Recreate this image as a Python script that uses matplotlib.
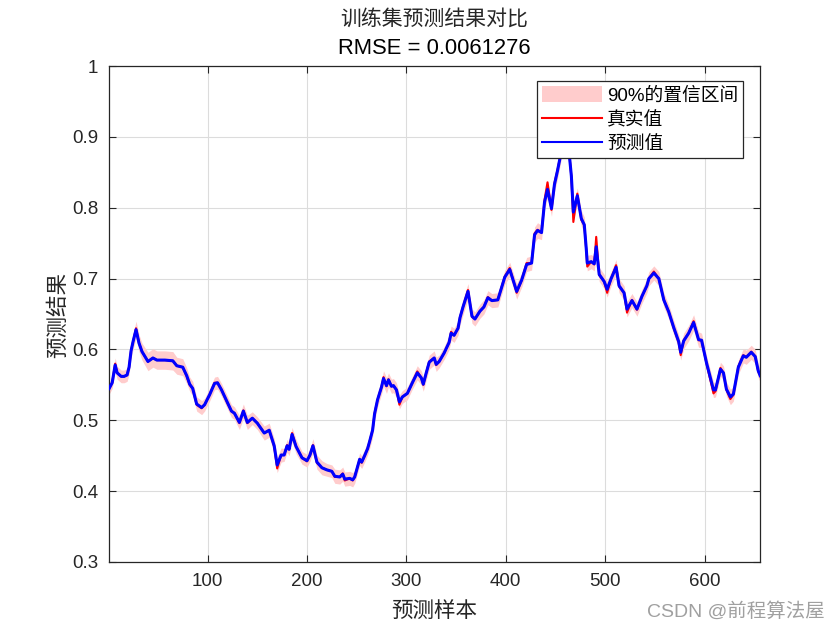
import numpy as np
import matplotlib
matplotlib.use("Agg")
from matplotlib import pyplot as plt
from matplotlib.patches import Patch
from matplotlib.lines import Line2D

# muestras (x = indice de muestra)
muestras = [1, 4, 7, 9, 13, 16, 19, 21, 23, 25, 28, 31, 34, 40, 45, 49, 57, 65, 69, 75,
            79, 82, 85, 89, 94, 97, 102, 107, 110, 114, 120, 124, 127, 132, 136, 140, 145, 150, 157, 162,
            167, 170, 174, 177, 180, 182, 185, 189, 195, 200, 203, 206, 210, 215, 220, 225, 228, 233, 236, 238,
            243, 246, 248, 251, 253, 255, 258, 261, 263, 266, 268, 271, 275, 277, 280, 282, 285, 287, 290, 293,
            296, 301, 306, 311, 315, 317, 320, 323, 328, 330, 333, 338, 343, 345, 348, 352, 354, 357, 362, 366,
            369, 374, 378, 382, 386, 392, 399, 404, 411, 416, 421, 426, 429, 432, 436, 439, 442, 446, 449, 452,
            455, 458, 460, 462, 464, 466, 468, 472, 476, 479, 481, 482, 486, 489, 491, 494, 499, 502, 506, 511,
            514, 519, 522, 527, 532, 537, 542, 544, 549, 554, 559, 564, 569, 574, 576, 579, 584, 589, 594, 597,
            602, 609, 611, 616, 619, 622, 626, 629, 634, 639, 642, 647, 651, 654, 656]

# valores reales (rojo)
y_real = [0.545, 0.553, 0.580, 0.567, 0.562, 0.562, 0.564, 0.575, 0.599, 0.611, 0.630, 0.609, 0.597, 0.583, 0.588, 0.585, 0.585, 0.584, 0.577, 0.575,
          0.562, 0.550, 0.545, 0.522, 0.517, 0.522, 0.536, 0.553, 0.553, 0.543, 0.524, 0.513, 0.510, 0.496, 0.514, 0.496, 0.503, 0.496, 0.482, 0.486,
          0.463, 0.432, 0.451, 0.451, 0.465, 0.459, 0.482, 0.463, 0.447, 0.442, 0.451, 0.465, 0.440, 0.433, 0.430, 0.428, 0.420, 0.420, 0.425, 0.415,
          0.418, 0.415, 0.420, 0.435, 0.445, 0.440, 0.450, 0.460, 0.470, 0.486, 0.510, 0.529, 0.547, 0.561, 0.548, 0.558, 0.548, 0.549, 0.543, 0.522,
          0.533, 0.538, 0.553, 0.569, 0.560, 0.550, 0.567, 0.583, 0.588, 0.578, 0.583, 0.595, 0.610, 0.625, 0.620, 0.630, 0.646, 0.660, 0.684, 0.646,
          0.643, 0.654, 0.660, 0.674, 0.669, 0.670, 0.703, 0.715, 0.680, 0.698, 0.722, 0.722, 0.764, 0.769, 0.765, 0.811, 0.836, 0.797, 0.835, 0.853,
          0.874, 0.900, 0.915, 0.900, 0.874, 0.844, 0.780, 0.820, 0.783, 0.776, 0.740, 0.717, 0.724, 0.720, 0.759, 0.705, 0.696, 0.680, 0.700, 0.719,
          0.689, 0.680, 0.652, 0.670, 0.656, 0.675, 0.690, 0.700, 0.710, 0.700, 0.670, 0.653, 0.630, 0.610, 0.592, 0.613, 0.623, 0.640, 0.613, 0.613,
          0.580, 0.538, 0.541, 0.574, 0.567, 0.543, 0.530, 0.536, 0.576, 0.592, 0.589, 0.597, 0.590, 0.569, 0.563]

# valores predichos (azul)
y_pred = [0.545, 0.553, 0.578, 0.567, 0.562, 0.562, 0.564, 0.575, 0.598, 0.611, 0.628, 0.609, 0.597, 0.583, 0.588, 0.585, 0.585, 0.584, 0.577, 0.575,
          0.563, 0.551, 0.545, 0.523, 0.518, 0.522, 0.536, 0.552, 0.553, 0.543, 0.525, 0.513, 0.510, 0.497, 0.513, 0.497, 0.503, 0.496, 0.482, 0.486,
          0.464, 0.437, 0.451, 0.451, 0.464, 0.459, 0.480, 0.463, 0.447, 0.443, 0.451, 0.464, 0.441, 0.433, 0.430, 0.428, 0.421, 0.420, 0.424, 0.417,
          0.418, 0.416, 0.420, 0.435, 0.445, 0.441, 0.450, 0.460, 0.470, 0.486, 0.509, 0.529, 0.547, 0.559, 0.549, 0.557, 0.548, 0.549, 0.543, 0.526,
          0.533, 0.538, 0.553, 0.567, 0.560, 0.551, 0.567, 0.582, 0.588, 0.579, 0.583, 0.595, 0.610, 0.623, 0.620, 0.630, 0.645, 0.660, 0.682, 0.647,
          0.643, 0.654, 0.660, 0.673, 0.669, 0.670, 0.702, 0.713, 0.682, 0.698, 0.720, 0.722, 0.762, 0.768, 0.765, 0.808, 0.826, 0.799, 0.833, 0.852,
          0.873, 0.898, 0.912, 0.898, 0.874, 0.845, 0.794, 0.817, 0.785, 0.776, 0.742, 0.722, 0.724, 0.721, 0.745, 0.706, 0.696, 0.685, 0.700, 0.716,
          0.690, 0.680, 0.657, 0.669, 0.657, 0.675, 0.690, 0.700, 0.708, 0.700, 0.670, 0.653, 0.631, 0.611, 0.596, 0.612, 0.623, 0.638, 0.614, 0.613,
          0.581, 0.543, 0.543, 0.572, 0.567, 0.544, 0.533, 0.537, 0.575, 0.591, 0.589, 0.596, 0.590, 0.570, 0.563]

# semi-anchura del intervalo de confianza del 90%
semi_ic = [0.008, 0.008, 0.010, 0.009, 0.009, 0.009, 0.009, 0.010, 0.010, 0.011, 0.012, 0.012, 0.012, 0.013, 0.013, 0.013, 0.013, 0.013, 0.012, 0.012,
           0.011, 0.010, 0.010, 0.010, 0.010, 0.009, 0.009, 0.009, 0.009, 0.009, 0.009, 0.009, 0.009, 0.010, 0.010, 0.010, 0.009, 0.009, 0.010, 0.010,
           0.010, 0.011, 0.010, 0.009, 0.009, 0.009, 0.010, 0.010, 0.009, 0.009, 0.009, 0.010, 0.010, 0.010, 0.009, 0.009, 0.010, 0.010, 0.010, 0.010,
           0.010, 0.010, 0.009, 0.009, 0.009, 0.009, 0.009, 0.009, 0.010, 0.010, 0.010, 0.010, 0.010, 0.011, 0.011, 0.010, 0.010, 0.010, 0.010, 0.010,
           0.009, 0.009, 0.009, 0.010, 0.010, 0.010, 0.010, 0.010, 0.010, 0.010, 0.009, 0.009, 0.010, 0.010, 0.010, 0.010, 0.010, 0.011, 0.011, 0.010,
           0.010, 0.010, 0.010, 0.010, 0.010, 0.010, 0.010, 0.010, 0.011, 0.010, 0.010, 0.010, 0.011, 0.011, 0.010, 0.011, 0.012, 0.011, 0.011, 0.011,
           0.011, 0.011, 0.011, 0.011, 0.011, 0.011, 0.012, 0.011, 0.011, 0.011, 0.011, 0.011, 0.010, 0.010, 0.012, 0.010, 0.010, 0.011, 0.010, 0.011,
           0.010, 0.010, 0.011, 0.010, 0.010, 0.010, 0.010, 0.010, 0.010, 0.010, 0.010, 0.010, 0.010, 0.010, 0.011, 0.011, 0.011, 0.011, 0.011, 0.010,
           0.010, 0.011, 0.010, 0.010, 0.010, 0.010, 0.011, 0.010, 0.010, 0.010, 0.010, 0.010, 0.010, 0.010, 0.009]

titulo = "训练集预测结果对比"
rmse_txt = "RMSE = 0.0061276"
nombres_leyenda = ["90%的置信区间", "真实值", "预测值"]
xticks = [100, 200, 300, 400, 500, 600]
yticks = [0.3, 0.4, 0.5, 0.6, 0.7, 0.8, 0.9, 1]

fuente = ["Liberation Sans", "Noto Sans CJK SC", "DejaVu Sans"]
fuente_cjk = ["Noto Sans CJK SC", "Liberation Sans", "DejaVu Sans"]
plt.rcParams["font.family"] = fuente

x = np.array(muestras)
yr = np.array(y_real)
yp = np.array(y_pred)
ic = np.array(semi_ic)

fig = plt.figure(figsize=(8.4, 6.3), dpi=100)
ax = fig.add_axes([0.130, 0.108, 0.775, 0.787])

ax.fill_between(x, yp - ic, yp + ic, color="#ffcccc", lw=0, zorder=1)
ax.plot(x, yr, color="red", lw=1.5, zorder=2)
ax.plot(x, yp, color="blue", lw=2.2, zorder=3)

ax.set_xlim(1, 656)
ax.set_ylim(0.3, 1)
ax.set_xticks(xticks)
ax.set_yticks(yticks)
ax.set_yticklabels(["0.3", "0.4", "0.5", "0.6", "0.7", "0.8", "0.9", "1"])
ax.tick_params(direction="in", length=5, width=0.8, labelsize=13.5, colors="#262626",
               top=True, right=True, pad=8)
ax.grid(True, color="#dcdcdc", lw=0.8)
ax.set_axisbelow(True)
for s in ax.spines.values():
    s.set_color("#262626")
    s.set_linewidth(0.9)

fig.text(0.517, 0.030, "预测样本", ha="center", va="center", fontsize=15.5,
         family=fuente_cjk, color="#262626")
fig.text(0.069, 0.5, "预测结果", ha="center", va="center", rotation=90, fontsize=15.5,
         family=fuente_cjk, color="#262626")
fig.text(0.517, 0.971, titulo, ha="center", va="center", fontsize=15,
         family=fuente_cjk, color="#262626")
fig.text(0.517, 0.923, rmse_txt, ha="center", va="center", fontsize=15.8, color="black")

handles = [Patch(facecolor="#ffcccc", edgecolor="none"),
           Line2D([], [], color="red", lw=1.5),
           Line2D([], [], color="blue", lw=1.5)]
leg = ax.legend(handles, nombres_leyenda, loc="upper right", bbox_to_anchor=(0.974, 0.970),
                borderaxespad=0, fancybox=False, framealpha=1, edgecolor="#262626",
                prop={"family": fuente, "size": 13.5}, handlelength=3.2, handleheight=1.0,
                labelspacing=0.3, borderpad=0.25, handletextpad=0.3)
leg.get_frame().set_linewidth(0.9)
leg.set_zorder(5)

fig.text(0.982, 0.030, "CSDN @前程算法屋", ha="right", va="center", fontsize=14,
         family=fuente, color="#a0a0a0")

fig.savefig("out.png", dpi=100)
